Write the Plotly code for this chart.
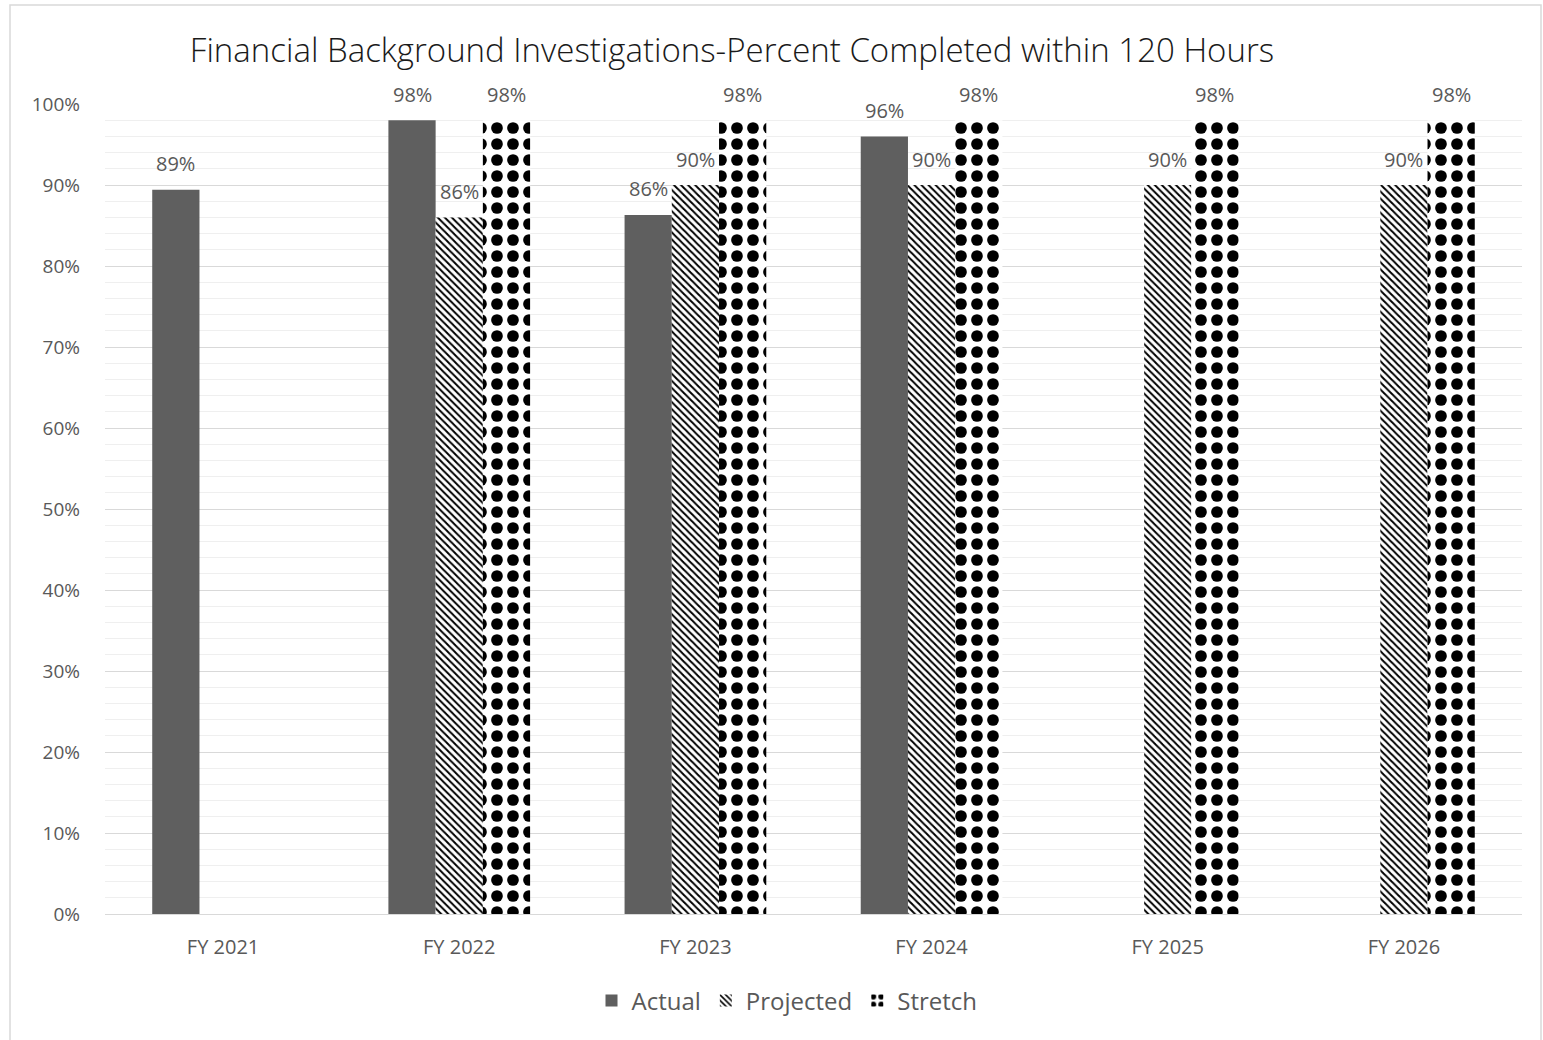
import plotly.graph_objects as go

categories = ["FY 2021", "FY 2022", "FY 2023", "FY 2024", "FY 2025", "FY 2026"]
actual = [89.4, 98, 86.3, 96, None, None]
projected = [None, 86, 90, 90, 90, 90]
stretch = [None, 98, 98, 98, 98, 98]
title_text = "Financial Background Investigations-Percent Completed within 120 Hours"

W, H = 1543, 1040
L, R, T, B = 105, 21, 104, 126
pw, ph = W - L - R, H - T - B
BARGAP = 0.4

font_family = "Open Sans, Liberation Sans, sans-serif"
label_font = dict(family=font_family, size=20, color="#595959")

fig = go.Figure()
fig.add_trace(go.Bar(
    name="Actual", x=categories, y=actual,
    marker=dict(color="#5f5f5f", line=dict(width=0)),
))
fig.add_trace(go.Bar(
    name="Projected", x=categories, y=projected,
    marker=dict(color="white", line=dict(width=0),
                pattern=dict(shape="\\", fgcolor="black", bgcolor="white", fgopacity=1,
                             size=5, solidity=0.4)),
))
fig.add_trace(go.Bar(
    name="Stretch", x=categories, y=stretch,
    marker=dict(color="white", line=dict(width=0),
                pattern=dict(shape=".", fgcolor="black", bgcolor="white", fgopacity=1,
                             size=16, solidity=0.42)),
))

# data labels placed above each bar (bar offset within the group in pixels)
cat_px = pw / len(categories)
bar_px = cat_px * (1 - BARGAP) / 3
annotations = []
for k, series in enumerate([actual, projected, stretch]):
    for cat, v in zip(categories, series):
        if v is None:
            continue
        annotations.append(dict(
            x=cat, y=v, xref="x", yref="y", text=f"{v:.0f}%", showarrow=False,
            xshift=(k - 1) * bar_px, yshift=26, yanchor="middle", xanchor="center",
            font=label_font,
        ))

def px_x(p):
    return (p - L) / pw

def px_y(p):
    return 1 - (p - T) / ph

fig.update_layout(
    width=W, height=H,
    margin=dict(l=L, r=R, t=T, b=B),
    paper_bgcolor="white", plot_bgcolor="white",
    barmode="group", bargap=BARGAP, bargroupgap=0,
    title=dict(text=title_text, x=732 / W, xanchor="center", y=1 - 50 / H, yanchor="middle",
               font=dict(family=font_family, size=33, color="#1a1a1a", weight=300)),
    font=dict(family=font_family, color="#595959"),
    legend=dict(orientation="h", x=px_x(787), xanchor="center", y=px_y(1001), yanchor="middle",
                font=dict(family=font_family, size=24, color="#595959"),
                traceorder="normal"),
    xaxis=dict(showgrid=False, showline=False, ticks="", ticklabelstandoff=19,
               tickfont=dict(size=20, color="#595959")),
    yaxis=dict(range=[0, 100], dtick=10, ticksuffix="%", showgrid=True, gridcolor="#d9d9d9",
               gridwidth=1, zeroline=True, zerolinecolor="#d9d9d9", zerolinewidth=1,
               tickfont=dict(size=19, color="#595959"), ticks="", ticklabelstandoff=24,
               minor=dict(dtick=2, showgrid=True, gridcolor="#efefef", gridwidth=1)),
    annotations=annotations,
    shapes=[dict(type="rect", xref="paper", yref="paper",
                 x0=px_x(10), x1=px_x(1541), y0=px_y(5), y1=px_y(1045),
                 line=dict(color="#d9d9d9", width=1.5), fillcolor="rgba(0,0,0,0)", layer="below")],
)

fig.write_html("out.html", config={"displayModeBar": False},
               post_script="document.body.style.margin='0';")
